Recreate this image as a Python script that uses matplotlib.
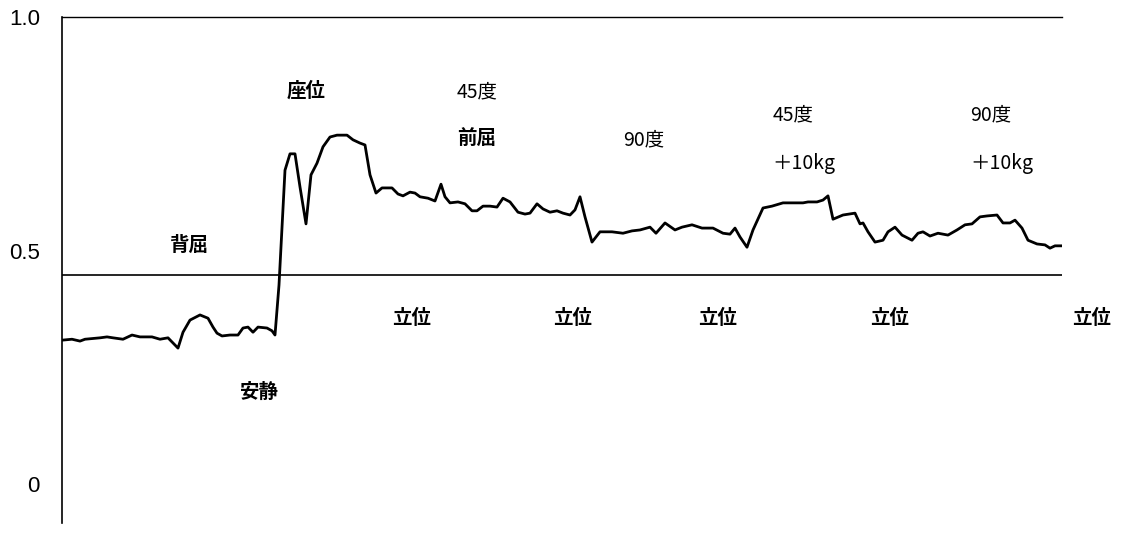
# -*- coding: utf-8 -*-
import numpy as np
import matplotlib
matplotlib.use('Agg')
import matplotlib.pyplot as plt

# time axis (arbitrary units, 0..100) and measured ratio
t = [0.0, 1.0, 1.8, 2.3, 3.8, 4.5, 5.1, 6.1, 7.0, 7.8, 9.0, 9.8, 10.6, 11.6, 12.1,
     12.8, 13.8, 14.6, 15.1, 15.5, 16.0, 16.8, 17.6, 18.1, 18.6, 19.1, 19.6, 20.5,
     21.0, 21.3, 21.7, 22.3, 22.8, 23.3, 23.8, 24.4, 24.9, 25.5, 26.1, 26.8, 27.5,
     28.5, 29.1, 29.8, 30.3, 30.8, 31.4, 32.0, 33.0, 33.6, 34.1, 34.8, 35.3, 35.8,
     36.6, 37.3, 37.9, 38.3, 38.8, 39.6, 40.3, 41.0, 41.5, 42.1, 42.8, 43.5, 44.1,
     44.8, 45.6, 46.3, 46.8, 47.5, 48.1, 48.8, 49.5, 50.1, 50.8, 51.3, 51.8, 52.3,
     53.0, 53.8, 55.0, 56.1, 57.0, 57.8, 58.8, 59.4, 60.3, 61.3, 62.0, 63.0, 64.0,
     65.1, 66.1, 66.8, 67.3, 67.8, 68.5, 69.1, 70.1, 71.0, 72.1, 73.1, 74.1, 74.6,
     75.5, 76.1, 76.6, 77.1, 78.1, 79.3, 79.8, 80.1, 80.6, 81.3, 82.1, 82.6, 83.3,
     84.0, 85.0, 85.6, 86.1, 86.8, 87.6, 88.6, 89.5, 90.3, 91.0, 91.8, 92.5, 93.5,
     94.1, 94.8, 95.3, 96.0, 96.6, 97.5, 98.3, 98.8, 99.3, 100.0]
ratio = [0.308, 0.310, 0.306, 0.310, 0.313, 0.315, 0.313, 0.310, 0.319, 0.315, 0.315,
         0.310, 0.313, 0.291, 0.325, 0.351, 0.362, 0.355, 0.336, 0.323, 0.317, 0.319,
         0.319, 0.334, 0.336, 0.325, 0.336, 0.334, 0.328, 0.319, 0.426, 0.672, 0.707,
         0.707, 0.636, 0.557, 0.662, 0.687, 0.722, 0.743, 0.747, 0.747, 0.737, 0.730,
         0.726, 0.662, 0.623, 0.634, 0.634, 0.621, 0.617, 0.625, 0.623, 0.615, 0.612,
         0.606, 0.642, 0.615, 0.602, 0.604, 0.600, 0.585, 0.585, 0.595, 0.595, 0.593,
         0.612, 0.604, 0.582, 0.578, 0.580, 0.600, 0.589, 0.582, 0.585, 0.580, 0.576,
         0.587, 0.615, 0.572, 0.518, 0.540, 0.540, 0.537, 0.542, 0.544, 0.550, 0.537,
         0.559, 0.544, 0.550, 0.555, 0.548, 0.548, 0.537, 0.535, 0.548, 0.529, 0.507,
         0.544, 0.591, 0.595, 0.602, 0.602, 0.602, 0.604, 0.604, 0.608, 0.617, 0.567,
         0.576, 0.580, 0.557, 0.559, 0.540, 0.518, 0.522, 0.540, 0.550, 0.533, 0.522,
         0.537, 0.540, 0.531, 0.537, 0.533, 0.544, 0.555, 0.557, 0.572, 0.574, 0.576,
         0.559, 0.559, 0.565, 0.548, 0.522, 0.514, 0.512, 0.505, 0.510, 0.510]
threshold = 0.4475

ytick_vals = [0, 0.5, 1.0]
ytick_labels = ['0', '0.5', '1.0']

# annotations: text and where it sits
notes = ['背屈', '安静', '座位', '45度', '前屈', '90度', '45度', '＋10kg', '90度', '＋10kg',
         '立位', '立位', '立位', '立位', '立位']
note_x = [12.7, 19.7, 24.4, 41.5, 41.5, 58.2, 73.1, 74.2, 92.9, 94.0,
          35.0, 51.1, 65.6, 82.8, 103.0]
note_y = [0.510, 0.197, 0.842, 0.839, 0.737, 0.737, 0.790, 0.687, 0.790, 0.687,
          0.355, 0.355, 0.355, 0.355, 0.355]

W, H = 1133, 533
fig = plt.figure(figsize=(W/100, H/100), dpi=100)
ax = fig.add_axes([62/W, (H-523)/H, 1000/W, (523-17)/H])

ax.plot(t, ratio, color='k', lw=2.0)
ax.axhline(threshold, color='k', lw=1.2)

ax.set_xlim(0, 100)
ax.set_ylim(-0.0835, 1.0)
ax.set_xticks([])
ax.set_yticks(ytick_vals)
ax.set_yticklabels(ytick_labels, family='Liberation Sans', fontsize=16)
ax.tick_params(axis='y', length=0, pad=16)

ax.spines['right'].set_visible(False)
ax.spines['bottom'].set_visible(False)
ax.spines['left'].set_linewidth(1.2)
ax.spines['top'].set_linewidth(1.0)

for s, x, y in zip(notes, note_x, note_y):
    # kanji-only labels print heavier in the original
    wt = 'normal' if any(c.isdigit() for c in s) else 'bold'
    ax.text(x, y, s, ha='center', va='center', fontsize=14, weight=wt,
            family=['Noto Sans CJK JP', 'DejaVu Sans'], clip_on=False)

fig.savefig('out.png', dpi=100)
